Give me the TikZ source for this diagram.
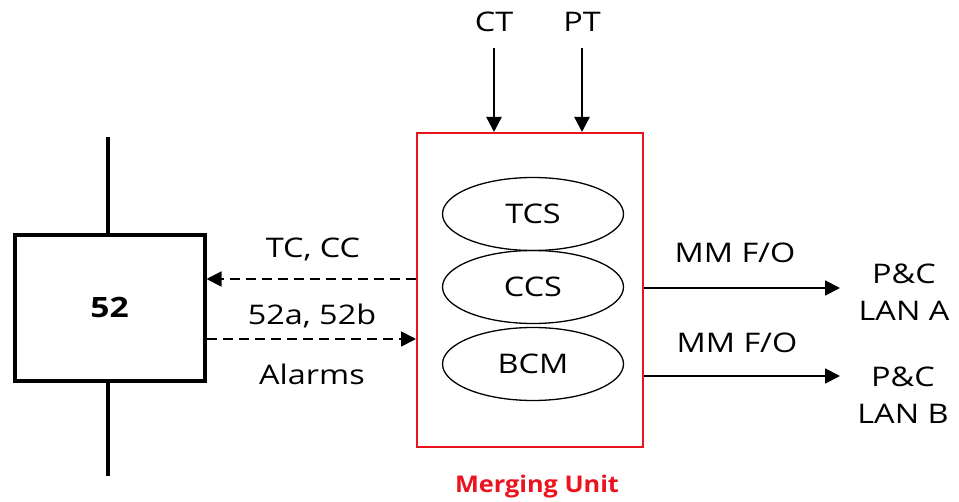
\documentclass[tikz,border=0pt]{standalone}
\usepackage{fontspec}
\setmainfont[FakeStretch=1.2]{Open Sans}
\newfontfamily\mufont[FakeStretch=1.1]{Open Sans}
\usetikzlibrary{arrows.meta,shapes.geometric}
\definecolor{mured}{RGB}{235,20,30}
\begin{document}
\begin{tikzpicture}[x=1pt,y=-1pt,
  lbl/.style={font=\fontsize{27}{31}\selectfont, inner sep=0pt},
  tip/.style={-{Triangle[length=15pt,width=15pt]}},
  ell/.style={draw, ellipse, line width=1.3pt, minimum width=181pt, minimum height=73pt, inner sep=0pt, font=\fontsize{27}{31}\selectfont}]
\useasboundingbox (0,0) rectangle (959,502);
% breaker
\node[draw, line width=4pt, minimum width=190pt, minimum height=146pt, inner sep=0pt, font=\bfseries\fontsize{28}{32}\selectfont] (cb) at (109.5,308) {52};
\coordinate (bt) at (108,137);
\coordinate (bb) at (108,476);
\draw[line width=4pt] (bt) -- (cb.north -| bt);
\draw[line width=4pt] (cb.south -| bb) -- (bb);
% merging unit
\node[draw=mured, line width=2pt, minimum width=226pt, minimum height=314pt, inner sep=0pt] (mu) at (530,290) {};
\node[font=\mufont\bfseries\fontsize{23}{27}\selectfont, text=mured, inner sep=0pt] (mul) at (537,487) {Merging Unit};
\node[ell] (tcs) at (533,214) {TCS};
\node[ell] (ccs) at (533,287) {CCS};
\node[ell] (bcm) at (533,364) {BCM};
% CT PT
\node[lbl] (ct) at (494,22) {CT};
\node[lbl] (pt) at (582,22) {PT};
\coordinate (cts) at (494,48);
\coordinate (pts) at (582,48);
\draw[tip, line width=2.5pt] (cts) -- (cts |- mu.north);
\draw[tip, line width=2.5pt] (pts) -- (pts |- mu.north);
% dashed links
\coordinate (tcy) at (0,279);
\coordinate (sby) at (0,339);
\draw[tip, line width=1.8pt, dash pattern=on 10pt off 6pt] (mu.west |- tcy) -- (cb.east |- tcy);
\draw[tip, line width=1.8pt, dash pattern=on 10pt off 6pt] (cb.east |- sby) -- (mu.west |- sby);
\node[lbl] (tc) at (313,249) {TC, CC};
\node[lbl] (sa) at (312,316) {52a, 52b};
\node[lbl] (al) at (312,374) {Alarms};
% LAN
\coordinate (la) at (840,288);
\coordinate (lb) at (840,376);
\draw[tip, line width=1.8pt] (mu.east |- la) -- (la);
\draw[tip, line width=1.8pt] (mu.east |- lb) -- (lb);
\node[lbl] (mma) at (735,253) {MM F/O};
\node[lbl] (mmb) at (737,343) {MM F/O};
\node[lbl, align=center, font=\fontsize{27}{37}\selectfont] (lana) at (904,292) {P\&C\\LAN A};
\node[lbl, align=center, font=\fontsize{27}{37}\selectfont] (lanb) at (903,395) {P\&C\\LAN B};
\end{tikzpicture}
\end{document}
